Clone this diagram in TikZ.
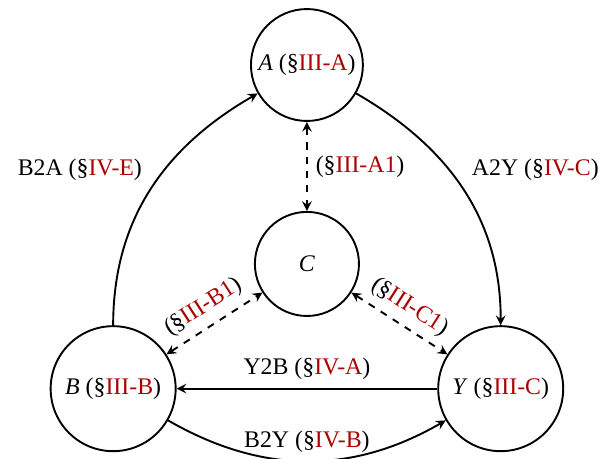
\documentclass[tikz,border=0pt]{standalone}
\usepackage{fontspec}
\setmainfont{Liberation Serif}
\usetikzlibrary{positioning}
\definecolor{secred}{RGB}{170,0,0}
\newcommand{\secref}[1]{(\S\textcolor{secred}{#1})}

\begin{document}
\begin{tikzpicture}[
	vertex/.style={circle, draw, thick, inner sep=0pt},
	conn/.style={thick, -stealth},
	dconn/.style={thick, dashed, stealth-stealth}]
	\useasboundingbox (-128.9pt,-165.1pt) rectangle (129.8pt,27.3pt);

	\node[vertex, minimum size=47pt] (A) {\textit{A}~\secref{III-A}};
	\node[vertex, minimum size=43.7pt, below=37.4pt of A] (C) {\textit{C}};
	\node[vertex, minimum size=52.5pt, below left=17.8pt and 46.8pt of C] (B) {\textit{B}~\secref{III-B}};
	\node[vertex, minimum size=52.5pt, below right=17.8pt and 46.8pt of C] (Y) {\textit{Y}~\secref{III-C}};

	\draw[conn] (B) to[out=90, in=210] node[above left] (ba) {B2A \secref{IV-E}} (A);
	\draw[conn] (A) to[out=-30, in=90] node[above right] (ay) {A2Y \secref{IV-C}} (Y);
	\draw[conn] (Y) -- node[above] (yb) {Y2B \secref{IV-A}} (B);
	\draw[conn] (B) to[out=-30, in=210] node[above] (by) {B2Y \secref{IV-B}} (Y);

	\draw[dconn] (A) -- node[right] (ac) {\secref{III-A1}} (C);
	\draw[dconn] (B) -- node[above, sloped] (bc) {\secref{III-B1}} (C);
	\draw[dconn] (C) -- node[above, sloped] (cy) {\secref{III-C1}} (Y);
\end{tikzpicture}
\end{document}
